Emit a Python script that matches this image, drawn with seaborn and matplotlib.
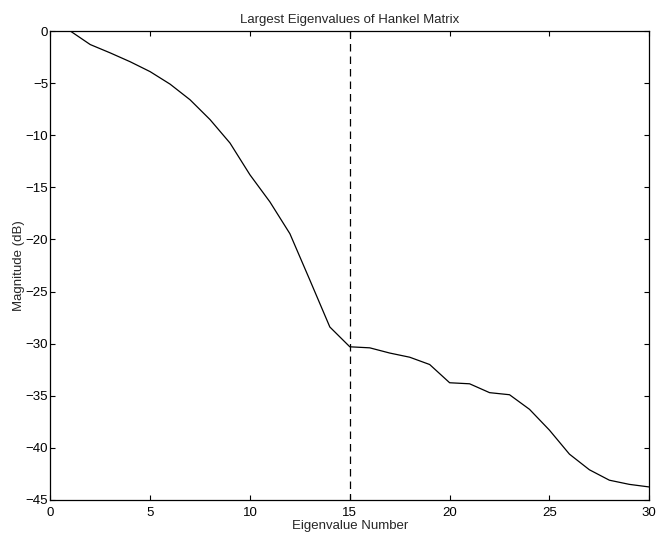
import matplotlib
matplotlib.use("Agg")
import matplotlib.pyplot as plt
import seaborn as sns
import pandas as pd

eig_number = list(range(1, 31))
magnitude_db = [0.0, -1.3, -2.1, -2.95, -3.9, -5.1, -6.6, -8.5, -10.75, -13.8,
                -16.4, -19.45, -23.9, -28.4, -30.3, -30.4, -30.9, -31.3, -32.0, -33.75,
                -33.85, -34.7, -34.9, -36.3, -38.3, -40.6, -42.1, -43.1, -43.5, -43.75]
cutoff = 15
x_ticks = [0, 5, 10, 15, 20, 25, 30]
y_ticks = [0, -5, -10, -15, -20, -25, -30, -35, -40, -45]

sns.set_style("ticks")
plt.rcParams['font.family'] = ['Liberation Sans', 'DejaVu Sans']
plt.rcParams['axes.unicode_minus'] = True

df = pd.DataFrame({"n": eig_number, "mag": magnitude_db})

fs = 9.5
fig = plt.figure(figsize=(6.57, 5.37), dpi=100)
ax = fig.add_axes([50.3 / 657, 1 - 500 / 537, (649.3 - 50.3) / 657, (500 - 31) / 537])
sns.lineplot(data=df, x="n", y="mag", ax=ax, color="black", linewidth=0.9)
ax.plot([cutoff, cutoff], [0, -45], color="black", linestyle=(0, (6, 4)), linewidth=0.9)

ax.set_xlim(0, 30)
ax.set_ylim(-45, 0)
ax.set_xticks(x_ticks)
ax.set_yticks(y_ticks)
ax.set_xticklabels([str(t) for t in x_ticks])
ax.set_yticklabels(["0" if t == 0 else "\u2212" + str(-t) for t in y_ticks])
ax.tick_params(direction="in", top=True, right=True, length=3.8, width=0.8,
               labelsize=fs, colors="black")
ax.tick_params(axis="x", pad=5)
ax.tick_params(axis="y", pad=1.5)
for s in ax.spines.values():
    s.set_visible(True)
    s.set_color("black")
    s.set_linewidth(0.9)
ax.set_xlabel("Eigenvalue Number", fontsize=fs, labelpad=1)
ax.set_ylabel("Magnitude (dB)", fontsize=fs, labelpad=0.5)
ax.set_title("Largest Eigenvalues of Hankel Matrix", fontsize=fs, pad=6)

fig.savefig("out.png", dpi=100)
